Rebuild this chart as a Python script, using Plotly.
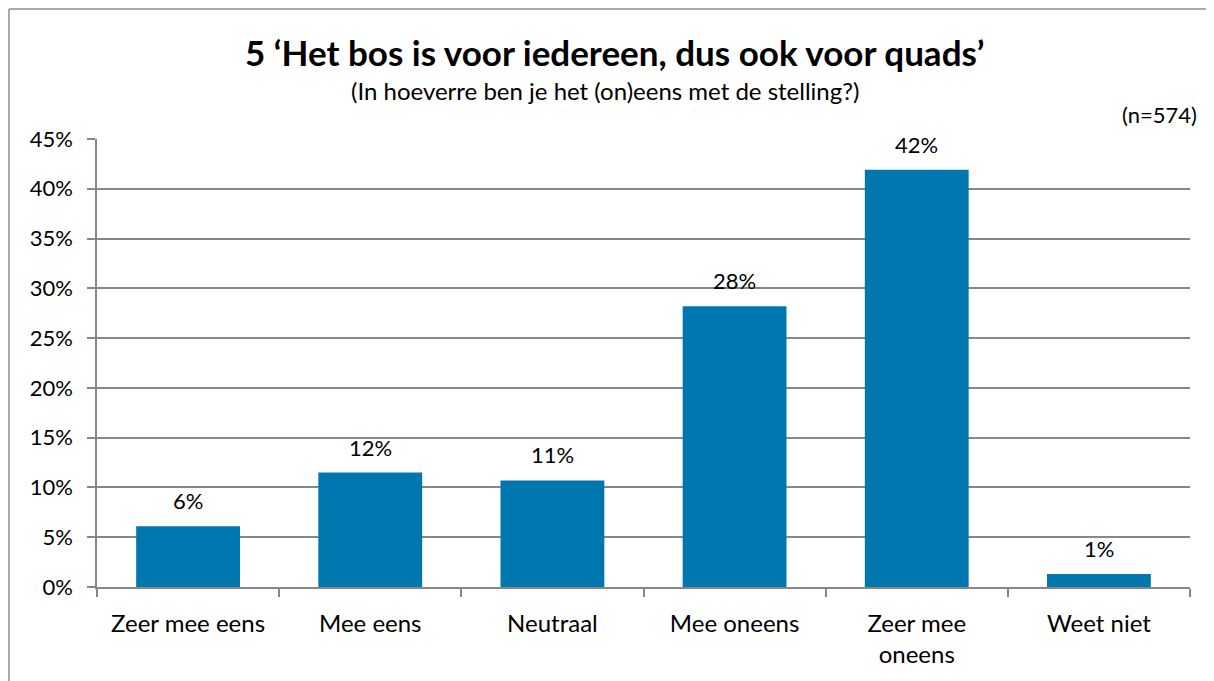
import plotly.graph_objects as go

categories = ["Zeer mee eens", "Mee eens", "Neutraal", "Mee oneens", "Zeer mee<br>oneens", "Weet niet"]
values = [6.1, 11.5, 10.7, 28.2, 41.9, 1.3]
labels = ["6%", "12%", "11%", "28%", "42%", "1%"]
tick_vals = [0, 5, 10, 15, 20, 25, 30, 35, 40, 45]
tick_text = ["0%", "5%", "10%", "15%", "20%", "25%", "30%", "35%", "40%", "45%"]

OFF = 8  # page body margin
W, H = 1214 - OFF, 681 - OFF
# plot area in screen pixels: x 97..1190, y 139..587
L = 97 - OFF
T = 139 - OFF
R = W - (1190 - OFF)
B = H - (587 - OFF)
pw, ph = W - L - R, H - T - B

def px_x(x):  # screen x -> paper
    return (x - OFF - L) / pw

def px_y(y):  # screen y -> paper
    return (H - B - (y - OFF)) / ph

FONT = "Lato"
GRID = "#878787"

fig = go.Figure()
fig.add_trace(go.Bar(
    x=categories, y=values,
    marker=dict(color="#0077AE", line=dict(width=0)),
    width=0.57,
    hoverinfo="skip",
))

for c, v, t in zip(categories, values, labels):
    fig.add_annotation(x=c, y=v, text=t, showarrow=False, yanchor="bottom",
                       yshift=10, font=dict(family=FONT, size=22, color="#000"))

fig.add_annotation(xref="paper", yref="paper", x=px_x(615), y=px_y(52),
                   text="<b>5 ‘Het bos is voor iedereen, dus ook voor quads’</b>",
                   showarrow=False, xanchor="center", yanchor="middle",
                   font=dict(family=FONT, size=35, color="#000"))
fig.add_annotation(xref="paper", yref="paper", x=px_x(605), y=px_y(90),
                   text="(In hoeverre ben je het (on)eens met de stelling?)",
                   showarrow=False, xanchor="center", yanchor="middle",
                   font=dict(family=FONT, size=24, color="#000"))
fig.add_annotation(xref="paper", yref="paper", x=px_x(1199), y=px_y(115),
                   text="(n=574)", showarrow=False, xanchor="right", yanchor="middle",
                   font=dict(family=FONT, size=22, color="#000"))

# chart border (left and top edges visible)
fig.add_shape(type="line", xref="paper", yref="paper",
              x0=px_x(9), x1=px_x(9), y0=px_y(9), y1=px_y(690),
              line=dict(color="#8c8c8c", width=1.5))
fig.add_shape(type="line", xref="paper", yref="paper",
              x0=px_x(9), x1=px_x(1214), y0=px_y(9), y1=px_y(9),
              line=dict(color="#8c8c8c", width=1.5))

fig.update_layout(
    width=W, height=H,
    margin=dict(l=L, r=R, t=T, b=B, pad=0),
    paper_bgcolor="white", plot_bgcolor="white",
    showlegend=False,
    font=dict(family=FONT, size=22, color="#000"),
    xaxis=dict(
        type="category", tickson="boundaries", ticks="outside", ticklen=8,
        tickcolor=GRID, tickwidth=1.5, showline=True, linecolor=GRID, linewidth=1.5,
        showgrid=False, tickfont=dict(family=FONT, size=24, color="#000"),
        ticklabelstandoff=14,
        fixedrange=True,
    ),
    yaxis=dict(
        range=[0, 45], tickvals=tick_vals, ticktext=tick_text,
        ticks="outside", ticklen=8, tickcolor=GRID, tickwidth=1.5,
        showline=True, linecolor=GRID, linewidth=1.5,
        showgrid=True, gridcolor=GRID, gridwidth=1.5, zeroline=False,
        tickfont=dict(family=FONT, size=22, color="#000"),
        ticklabelstandoff=10,
        fixedrange=True,
    ),
)

fig.write_html("out.html", config={"displayModeBar": False})
